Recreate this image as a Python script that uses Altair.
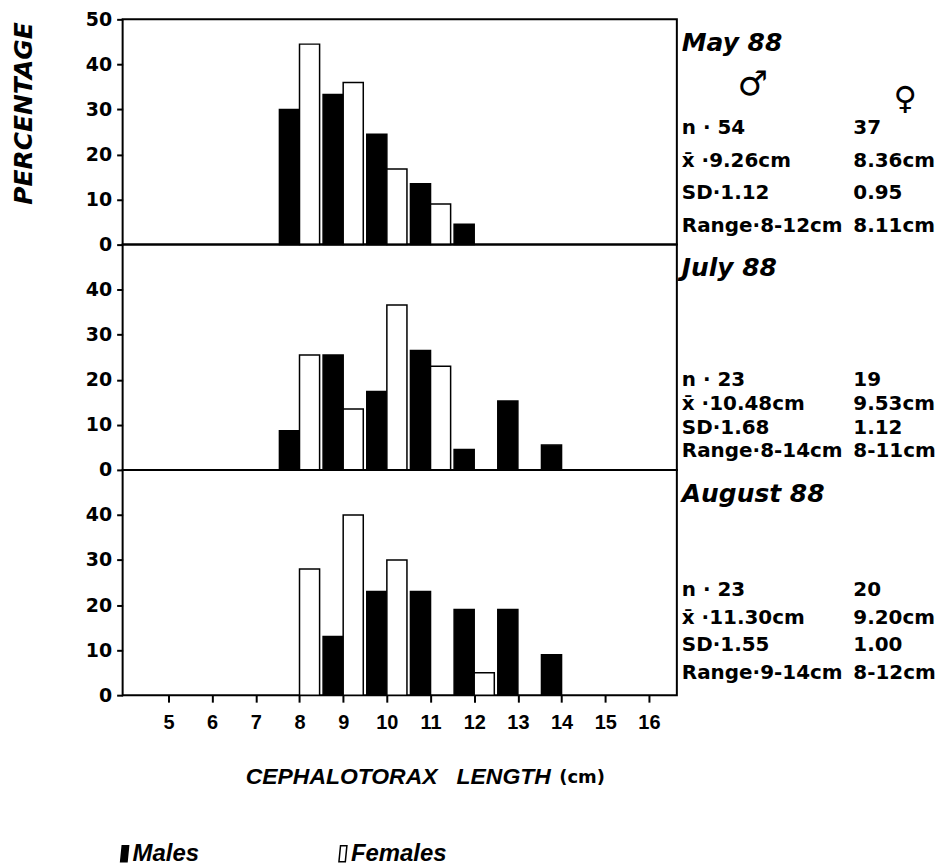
import altair as alt
import pandas as pd

# ---------------- data ----------------
lengths = [8, 9, 10, 11, 12, 13, 14]
month_titles = ["May 88", "July 88", "August 88"]
males_pct = [
    [30.0, 33.3, 24.5, 13.5, 4.5, 0, 0],
    [8.7, 25.5, 17.4, 26.5, 4.5, 15.3, 5.5],
    [0, 13.0, 23.0, 23.0, 19.0, 19.0, 9.0],
]
females_pct = [
    [44.5, 36.0, 16.8, 9.0, 0, 0, 0],
    [25.5, 13.5, 36.6, 23.0, 0, 0, 0],
    [28.0, 40.0, 30.0, 0, 5.0, 0, 0],
]
n_m = ["54", "23", "23"]
n_f = ["37", "19", "20"]
mean_m = ["9.26", "10.48", "11.30"]
mean_f = ["8.36", "9.53", "9.20"]
sd_m = ["1.12", "1.68", "1.55"]
sd_f = ["0.95", "1.12", "1.00"]
range_m = ["8-12", "8-14", "9-14"]
range_f = ["8.11", "8-11", "8-12"]
x_ticks = list(range(5, 17))
sexes = ["Males", "Females"]
sex_colors = ["black", "white"]

# ---------------- layout / style ----------------
PW, PH = 556, 226
X_DOMAIN = [3.95, 16.64]
BAR_W = 0.46
COL1, COL2 = 561, 733
ROWS = [
    dict(title=24, n=109, mean=142, sd=174, rng=207),
    dict(title=23, n=136, mean=160, sd=184, rng=207),
    dict(title=24, n=121, mean=149, sd=176, rng=204),
]
STAT_FONT = "DejaVu Sans"
STAT_SIZE = 20

legend = alt.Legend(
    orient="none", legendX=-14, legendY=825, direction="horizontal",
    title=None,
    symbolType="M0.2,-1 L1.0,-1 L0.8,1 L0,1 Z",
    symbolSize=256, symbolStrokeColor="black", symbolStrokeWidth=1.5,
    symbolOpacity=1,
    labelFont="Liberation Sans", labelFontStyle="italic", labelFontWeight="bold",
    labelFontSize=24, labelColor="black", labelOffset=0, columnPadding=128,
)


def text_mark(s, x, y, size=STAT_SIZE, font=STAT_FONT, style="normal", align="left"):
    return alt.Chart(pd.DataFrame({"t": [s]})).mark_text(
        font=font, fontSize=size, fontWeight="bold", fontStyle=style,
        align=align, baseline="middle", color="black",
    ).encode(text="t:N", x=alt.value(x), y=alt.value(y))


def panel(i):
    rows = []
    for L, m, f in zip(lengths, males_pct[i], females_pct[i]):
        if m > 0:
            rows.append({"length": L, "sex": "Males", "pct": m})
        if f > 0:
            rows.append({"length": L, "sex": "Females", "pct": f})
    df = pd.DataFrame(rows)

    if i == 0:
        yaxis = alt.Axis(
            values=[0, 10, 20, 30, 40, 50], title="PERCENTAGE",
            titleAngle=270, titleX=-99, titleY=94, titleAlign="center",
            titleBaseline="middle", titleFont="DejaVu Sans", titleFontStyle="italic",
            titleFontWeight="bold", titleFontSize=25, titleColor="black",
        )
    else:
        yaxis = alt.Axis(values=[0, 10, 20, 30, 40], title=None)

    if i == 2:
        xaxis = alt.Axis(
            values=x_ticks, title="CEPHALOTORAX\u00a0\u00a0 LENGTH",
            titleX=123, titleY=82, titleAlign="left", titleBaseline="middle",
            titleFont="Liberation Sans", titleFontStyle="italic", titleFontWeight="bold",
            titleFontSize=23, titleColor="black",
            labelFont="Liberation Sans", labelFontSize=20, labelFontWeight="bold",
            labelColor="black", labelPadding=10, tickSize=7, tickWidth=2,
            tickColor="black", domain=False, labelFlush=False,
        )
    else:
        xaxis = None

    bars = alt.Chart(df).transform_calculate(
        x0=f"datum.sex == 'Males' ? datum.length - {BAR_W} : datum.length",
        x1=f"datum.sex == 'Males' ? datum.length : datum.length + {BAR_W}",
    ).mark_bar(stroke="black", strokeWidth=1.5).encode(
        x=alt.X("x0:Q", scale=alt.Scale(domain=X_DOMAIN, nice=False, zero=False), axis=xaxis),
        x2="x1:Q",
        y=alt.Y("pct:Q", scale=alt.Scale(domain=[0, 50], nice=False), axis=yaxis),
        y2=alt.datum(0),
        fill=alt.Fill("sex:N", scale=alt.Scale(domain=sexes, range=sex_colors), legend=legend),
    )

    r = ROWS[i]
    texts = [
        text_mark(month_titles[i], COL1, r["title"], size=25, style="italic"),
        text_mark("n · " + n_m[i], COL1, r["n"]),
        text_mark(n_f[i], COL2, r["n"]),
        text_mark("x\u0304 ·" + mean_m[i] + "cm", COL1, r["mean"]),
        text_mark(mean_f[i] + "cm", COL2, r["mean"]),
        text_mark("SD·" + sd_m[i], COL1, r["sd"]),
        text_mark(sd_f[i], COL2, r["sd"]),
        text_mark("Range·" + range_m[i] + "cm", COL1, r["rng"]),
        text_mark(range_f[i] + "cm", COL2, r["rng"]),
    ]
    if i == 0:
        texts.append(text_mark("\u2642", 632, 66, size=34, font="DejaVu Sans", align="center"))
        texts.append(text_mark("\u2640", 785, 80, size=32, font="DejaVu Sans", align="center"))
    if i == 2:
        texts.append(text_mark("(cm)", 438, 309, size=18))

    return alt.layer(bars, *texts).properties(width=PW, height=PH)


chart = alt.vconcat(panel(0), panel(1), panel(2), spacing=0, bounds="flush").configure_view(
    stroke="black", strokeWidth=2
).configure_axisY(
    labelFont="DejaVu Sans", labelFontSize=19, labelFontWeight="bold", labelColor="black",
    labelPadding=5, tickSize=6, tickWidth=2, tickColor="black", domain=False,
    grid=False, labelFlush=False,
).configure_axisX(grid=False).properties(
    background="white", padding={"left": 3, "top": 0, "right": 5, "bottom": 0}
)

chart.save("out.html", embed_options={"renderer": "svg", "actions": False})
